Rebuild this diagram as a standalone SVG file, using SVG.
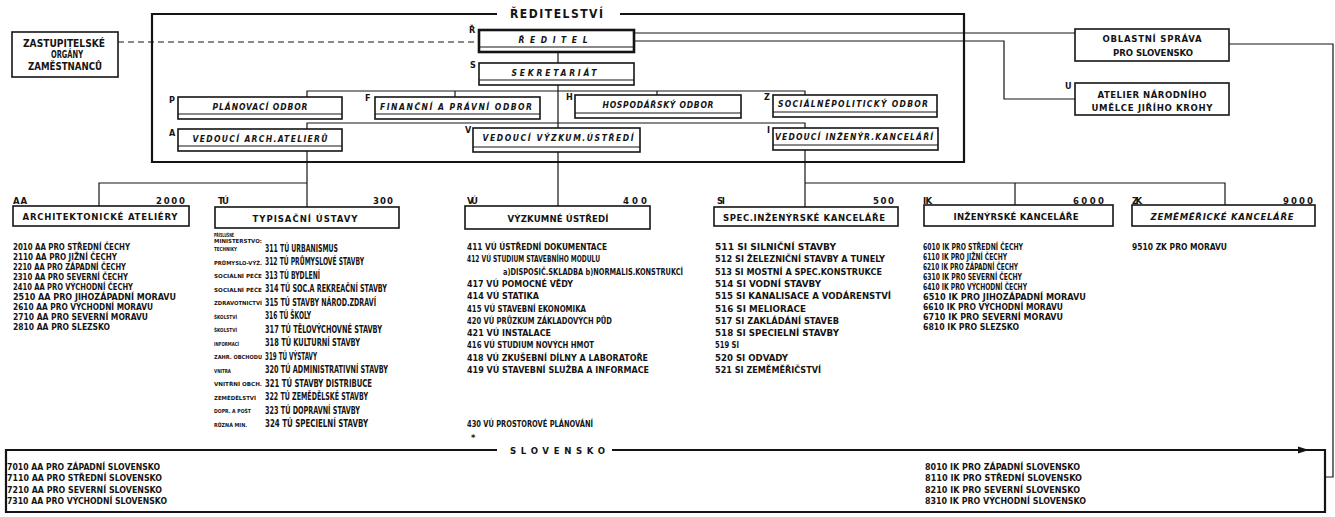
<svg xmlns="http://www.w3.org/2000/svg" width="1335" height="517" viewBox="0 0 1335 517">
<style>
text{font-family:"DejaVu Sans Condensed","DejaVu Sans","Liberation Sans",sans-serif;font-stretch:condensed;font-weight:bold;fill:#141414}
.box{fill:none;stroke:#141414;stroke-width:1.6}
.thick{fill:none;stroke:#141414;stroke-width:2.6}
.in{stroke:#141414;stroke-width:1}
.ln{fill:none;stroke:#141414;stroke-width:1.2}
.fr{fill:none;stroke:#141414;stroke-width:2.2}
.it{font-style:italic;font-size:8.5px}
.lb{font-size:9px}
.hd{font-size:9.5px}
.la{font-size:8.5px}
.lv{font-size:9.3px}
.lt{font-size:10px}
.sm{font-size:5.5px}
.c{text-anchor:middle}
.e{text-anchor:end}
</style>
<rect x="0" y="0" width="1335" height="517" fill="#ffffff"/>

<g id="connectors">
<path class="ln" d="M118,42 H479" stroke-dasharray="6,4"/>
<path class="ln" d="M558,52 V63 M558,85 V128 M558,152 V206"/>
<path class="ln" d="M307,97 V91 H805 V95 M455,91 V97 M657,91 V95"/>
<path class="ln" d="M307,129 V123 H805 V128"/>
<path class="ln" d="M634,33 H1075"/>
<path class="ln" d="M634,41 H1004 V99 H1075"/>
<path class="ln" d="M1229,44 H1333 V477 H1325"/>
<path class="ln" d="M307,151 V207 M307,183 H99 V206"/>
<path class="ln" d="M805,150 V207 M805,183 H1225 V205 M1015,183 V205"/>
<polygon points="1298,446.5 1309,450 1298,453.5" fill="#141414"/>
</g>

<g id="reditelstvi">
<path class="fr" d="M497,14 H152 V162 H964 V14 H620"/>
<text x="510" y="18" font-size="12" textLength="93" lengthAdjust="spacing">ŘEDITELSTVÍ</text>
</g>

<g id="zastupitelske">
<rect class="box" x="12" y="32" width="106" height="45"/>
<text class="c" x="64" y="46.5" font-size="10" textLength="82" lengthAdjust="spacingAndGlyphs">ZASTUPITELSKÉ</text>
<text class="c" x="67" y="58" font-size="10" textLength="32" lengthAdjust="spacingAndGlyphs">ORGÁNY</text>
<text class="c" x="65" y="70" font-size="10" textLength="74" lengthAdjust="spacingAndGlyphs">ZAMĚSTNANCŮ</text>
</g>

<g id="reditel">
<rect class="thick" x="479" y="30" width="155" height="22"/>
<line class="in" x1="479" y1="47" x2="634" y2="47"/>
<text class="it c" x="553" y="43" textLength="69" lengthAdjust="spacing">ŘEDITEL</text>
<text class="lb" x="469" y="33">Ř</text>
</g>

<g id="sekretariat">
<rect class="box" x="479" y="63" width="155" height="22"/>
<line class="in" x1="479" y1="80" x2="634" y2="80"/>
<text class="it c" x="554" y="76" textLength="85" lengthAdjust="spacing">SEKRETARIÁT</text>
<text class="lb" x="470" y="68">S</text>
</g>

<g id="planovaci">
<rect class="box" x="178" y="97" width="164" height="22"/>
<line class="in" x1="178" y1="114" x2="342" y2="114"/>
<text class="it c" x="260" y="110" textLength="95" lengthAdjust="spacing">PLÁNOVACÍ ODBOR</text>
<text class="lb" x="169" y="103">P</text>
</g>

<g id="financni">
<rect class="box" x="375" y="97" width="165" height="22"/>
<line class="in" x1="375" y1="114" x2="540" y2="114"/>
<text class="it c" x="456" y="110" textLength="152" lengthAdjust="spacing">FINANČNÍ A PRÁVNÍ ODBOR</text>
<text class="lb" x="365" y="101">F</text>
</g>

<g id="hospodarsky">
<rect class="box" x="575" y="95" width="166" height="23"/>
<line class="in" x1="575" y1="113" x2="741" y2="113"/>
<text class="it c" x="658" y="108" textLength="111" lengthAdjust="spacing">HOSPODÁŘSKÝ ODBOR</text>
<text class="lb" x="566" y="100">H</text>
</g>

<g id="socialne">
<rect class="box" x="773" y="95" width="164" height="22"/>
<line class="in" x1="773" y1="112" x2="937" y2="112"/>
<text class="it c" x="853" y="107" textLength="150" lengthAdjust="spacing">SOCIÁLNĚPOLITICKÝ ODBOR</text>
<text class="lb" x="764" y="100">Z</text>
</g>

<g id="vedouci-arch">
<rect class="box" x="178" y="129" width="164" height="22"/>
<line class="in" x1="178" y1="146" x2="342" y2="146"/>
<text class="it c" x="260" y="142" textLength="135" lengthAdjust="spacing">VEDOUCÍ ARCH.ATELIERŮ</text>
<text class="lb" x="169" y="136">A</text>
</g>

<g id="vedouci-vyzkum">
<rect class="box" x="473" y="128" width="167" height="24"/>
<line class="in" x1="473" y1="147" x2="640" y2="147"/>
<text class="it c" x="558" y="141" textLength="151" lengthAdjust="spacing">VEDOUCÍ VÝZKUM.ÚSTŘEDÍ</text>
<text class="lb" x="465" y="133">V</text>
</g>

<g id="vedouci-inzenyr">
<rect class="box" x="773" y="128" width="165" height="22"/>
<line class="in" x1="773" y1="145" x2="938" y2="145"/>
<text class="it c" x="854" y="140" textLength="158" lengthAdjust="spacing">VEDOUCÍ INŽENÝR.KANCELÁŘÍ</text>
<text class="lb" x="767" y="133">I</text>
</g>

<g id="oblastni">
<rect class="box" x="1075" y="29" width="154" height="32" stroke-width="2"/>
<text class="c" x="1152" y="42" font-size="9.5" textLength="99" lengthAdjust="spacing">OBLASTNÍ SPRÁVA</text>
<text class="c" x="1153" y="56" font-size="9.5" textLength="80" lengthAdjust="spacing">PRO SLOVENSKO</text>
</g>

<g id="atelier">
<rect class="box" x="1075" y="83" width="154" height="32" stroke-width="2"/>
<text class="c" x="1152" y="98" font-size="9.5" textLength="109" lengthAdjust="spacing">ATELIER NÁRODNÍHO</text>
<text class="c" x="1152" y="111" font-size="9.5" textLength="121" lengthAdjust="spacing">UMĚLCE JIŘÍHO KROHY</text>
<text class="lb" x="1065" y="89" font-size="8">U</text>
</g>

<g id="aa">
<text class="hd" x="13" y="204" textLength="14" lengthAdjust="spacing">AA</text>
<text class="hd e" x="185" y="204" textLength="29" lengthAdjust="spacing">2000</text>
<rect class="box" x="13" y="206" width="176" height="20"/>
<text class="hd c" x="100" y="220" textLength="155" lengthAdjust="spacing">ARCHITEKTONICKÉ ATELIÉRY</text>
<g class="la">
<text x="13" y="250" textLength="117" lengthAdjust="spacingAndGlyphs">2010 AA  PRO STŘEDNÍ ČECHY</text>
<text x="13" y="260" textLength="104" lengthAdjust="spacingAndGlyphs">2110 AA  PRO JIŽNÍ ČECHY</text>
<text x="13" y="270" textLength="113" lengthAdjust="spacingAndGlyphs">2210 AA  PRO ZÁPADNÍ ČECHY</text>
<text x="13" y="280" textLength="115" lengthAdjust="spacingAndGlyphs">2310 AA  PRO SEVERNÍ ČECHY</text>
<text x="13" y="290" textLength="120" lengthAdjust="spacingAndGlyphs">2410 AA  PRO VÝCHODNÍ ČECHY</text>
<text x="13" y="300" textLength="163" lengthAdjust="spacingAndGlyphs">2510 AA  PRO JIHOZÁPADNÍ MORAVU</text>
<text x="13" y="310" textLength="140" lengthAdjust="spacingAndGlyphs">2610 AA  PRO VÝCHODNÍ MORAVU</text>
<text x="13" y="320" textLength="135" lengthAdjust="spacingAndGlyphs">2710 AA  PRO SEVERNÍ MORAVU</text>
<text x="13" y="330" textLength="97" lengthAdjust="spacingAndGlyphs">2810 AA  PRO SLEZSKO</text>
</g>
</g>

<g id="tu">
<text class="hd" x="218" y="204" textLength="11" lengthAdjust="spacing">TÚ</text>
<text class="hd e" x="393" y="204" textLength="20" lengthAdjust="spacing">300</text>
<rect class="box" x="215" y="207" width="184" height="21"/>
<text class="hd c" x="305" y="221.5" textLength="105" lengthAdjust="spacing">TYPISAČNÍ ÚSTAVY</text>
<text class="sm" x="214" y="236.5" textLength="20" lengthAdjust="spacingAndGlyphs">PŘÍSLUŠNÉ</text>
<text class="sm" x="214" y="242.5" textLength="48" lengthAdjust="spacingAndGlyphs">MINISTERSTVO:</text>
<g class="sm">
<text x="214" y="251" textLength="23" lengthAdjust="spacingAndGlyphs">TECHNIKY</text>
<text x="214" y="264.5" textLength="48" lengthAdjust="spacingAndGlyphs">PRŮMYSLO-VÝŽ.</text>
<text x="214" y="278" textLength="48" lengthAdjust="spacingAndGlyphs">SOCIÁLNÍ PÉČE</text>
<text x="214" y="291.5" textLength="48" lengthAdjust="spacingAndGlyphs">SOCIALNÍ PÉČE</text>
<text x="214" y="305" textLength="48" lengthAdjust="spacingAndGlyphs">ZDRAVOTNICTVÍ</text>
<text x="214" y="318.5" textLength="23" lengthAdjust="spacingAndGlyphs">ŠKOLSTVÍ</text>
<text x="214" y="332" textLength="23" lengthAdjust="spacingAndGlyphs">ŠKOLSTVÍ</text>
<text x="214" y="345.5" textLength="25" lengthAdjust="spacingAndGlyphs">INFORMACÍ</text>
<text x="214" y="359" textLength="48" lengthAdjust="spacingAndGlyphs">ZAHR. OBCHODU</text>
<text x="214" y="372.5" textLength="17" lengthAdjust="spacingAndGlyphs">VNITRA</text>
<text x="214" y="386" textLength="48" lengthAdjust="spacingAndGlyphs">VNITŘNÍ OBCH.</text>
<text x="214" y="399.5" textLength="42" lengthAdjust="spacingAndGlyphs">ZEMĚDĚLSTVÍ</text>
<text x="214" y="413" textLength="37" lengthAdjust="spacingAndGlyphs">DOPR. A POŠT</text>
<text x="214" y="426.5" textLength="33" lengthAdjust="spacingAndGlyphs">RŮZNÁ MIN.</text>
</g>
<g class="lt">
<text x="265" y="251.5" textLength="73" lengthAdjust="spacingAndGlyphs">311 TÚ URBANISMUS</text>
<text x="265" y="265" textLength="99" lengthAdjust="spacingAndGlyphs">312 TÚ PRŮMYSLOVÉ STAVBY</text>
<text x="265" y="278.5" textLength="55" lengthAdjust="spacingAndGlyphs">313 TÚ BYDLENÍ</text>
<text x="265" y="292" textLength="122" lengthAdjust="spacingAndGlyphs">314 TÚ SOC.A REKREAČNÍ STAVBY</text>
<text x="265" y="305.5" textLength="111" lengthAdjust="spacingAndGlyphs">315 TÚ STAVBY NÁROD.ZDRAVÍ</text>
<text x="265" y="319" textLength="46" lengthAdjust="spacingAndGlyphs">316 TÚ ŠKOLY</text>
<text x="265" y="332.5" textLength="117" lengthAdjust="spacingAndGlyphs">317 TÚ TĚLOVÝCHOVNÉ  STAVBY</text>
<text x="265" y="346" textLength="95" lengthAdjust="spacingAndGlyphs">318 TÚ KULTURNÍ STAVBY</text>
<text x="265" y="359.5" textLength="52" lengthAdjust="spacingAndGlyphs">319 TÚ VÝSTAVY</text>
<text x="265" y="373" textLength="123" lengthAdjust="spacingAndGlyphs">320 TÚ ADMINISTRATIVNÍ STAVBY</text>
<text x="265" y="386.5" textLength="107" lengthAdjust="spacingAndGlyphs">321 TÚ STAVBY DISTRIBUCE</text>
<text x="265" y="400" textLength="103" lengthAdjust="spacingAndGlyphs">322 TÚ ZEMĚDĚLSKÉ STAVBY</text>
<text x="265" y="413.5" textLength="95" lengthAdjust="spacingAndGlyphs">323 TÚ DOPRAVNÍ STAVBY</text>
<text x="265" y="427" textLength="103" lengthAdjust="spacingAndGlyphs">324 TÚ SPECIELNÍ STAVBY</text>
</g>
</g>

<g id="vu">
<text class="hd" x="467" y="204" textLength="11" lengthAdjust="spacing">VÚ</text>
<text class="hd e" x="647" y="204" textLength="24" lengthAdjust="spacing">400</text>
<rect class="box" x="465" y="206" width="185" height="23"/>
<text class="hd c" x="558" y="222" textLength="101" lengthAdjust="spacing">VÝZKUMNÉ ÚSTŘEDÍ</text>
<g class="lv">
<text x="467" y="250" textLength="140" lengthAdjust="spacingAndGlyphs">411 VÚ ÚSTŘEDNÍ DOKUMENTACE</text>
<text x="467" y="262.3" textLength="133" lengthAdjust="spacingAndGlyphs">412 VÚ STUDIUM STAVEBNÍHO MODULU</text>
<text x="503" y="274.6" textLength="180" lengthAdjust="spacingAndGlyphs">a)DISPOSIČ.SKLADBA b)NORMALIS.KONSTRUKCÍ</text>
<text x="467" y="286.9" textLength="106" lengthAdjust="spacingAndGlyphs">417 VÚ POMOCNÉ VĚDY</text>
<text x="467" y="299.2" textLength="72" lengthAdjust="spacingAndGlyphs">414 VÚ STATIKA</text>
<text x="467" y="311.5" textLength="119" lengthAdjust="spacingAndGlyphs">415 VÚ STAVEBNÍ EKONOMIKA</text>
<text x="467" y="323.8" textLength="145" lengthAdjust="spacingAndGlyphs">420 VÚ PRŮZKUM ZÁKLADOVÝCH PŮD</text>
<text x="467" y="336.1" textLength="84" lengthAdjust="spacingAndGlyphs">421 VÚ INSTALACE</text>
<text x="467" y="348.4" textLength="127" lengthAdjust="spacingAndGlyphs">416 VÚ STUDIUM NOVÝCH HMOT</text>
<text x="467" y="360.7" textLength="181" lengthAdjust="spacingAndGlyphs">418 VÚ ZKUŠEBNÍ DÍLNY A LABORATOŘE</text>
<text x="467" y="373" textLength="182" lengthAdjust="spacingAndGlyphs">419 VÚ STAVEBNÍ SLUŽBA A INFORMACE</text>
<text x="467" y="427" textLength="126" lengthAdjust="spacingAndGlyphs">430 VÚ PROSTOROVÉ PLÁNOVÁNÍ</text>
<text x="471" y="441">*</text>
</g>
</g>

<g id="si">
<text class="hd" x="717" y="204" textLength="8" lengthAdjust="spacing">SI</text>
<text class="hd e" x="894" y="204" textLength="21" lengthAdjust="spacing">500</text>
<rect class="box" x="714" y="207" width="184" height="19"/>
<text class="hd c" x="804" y="220.5" textLength="162" lengthAdjust="spacing">SPEC.INŽENÝRSKÉ KANCELÁŘE</text>
<g class="lv">
<text x="715" y="250" textLength="121" lengthAdjust="spacingAndGlyphs">511 SI SILNIČNÍ STAVBY</text>
<text x="715" y="262.3" textLength="170" lengthAdjust="spacingAndGlyphs">512 SI ŽELEZNIČNÍ STAVBY A TUNELY</text>
<text x="715" y="274.6" textLength="167" lengthAdjust="spacingAndGlyphs">513 SI MOSTNÍ A SPEC.KONSTRUKCE</text>
<text x="715" y="286.9" textLength="106" lengthAdjust="spacingAndGlyphs">514 SI VODNÍ STAVBY</text>
<text x="715" y="299.2" textLength="176" lengthAdjust="spacingAndGlyphs">515 SI KANALISACE A VODÁRENSTVÍ</text>
<text x="715" y="311.5" textLength="91" lengthAdjust="spacingAndGlyphs">516 SI MELIORACE</text>
<text x="715" y="323.8" textLength="124" lengthAdjust="spacingAndGlyphs">517 SI ZAKLÁDÁNÍ STAVEB</text>
<text x="715" y="336.1" textLength="124" lengthAdjust="spacingAndGlyphs">518 SI SPECIELNÍ STAVBY</text>
<text x="715" y="348.4" textLength="24" lengthAdjust="spacingAndGlyphs">519 SI</text>
<text x="715" y="360.7" textLength="73" lengthAdjust="spacingAndGlyphs">520 SI ODVADY</text>
<text x="715" y="373" textLength="106" lengthAdjust="spacingAndGlyphs">521 SI ZEMĚMĚŘIČSTVÍ</text>
</g>
</g>

<g id="ik">
<text class="hd" x="923" y="204" textLength="9" lengthAdjust="spacing">IK</text>
<text class="hd e" x="1104" y="204" textLength="31" lengthAdjust="spacing">6000</text>
<rect class="box" x="924" y="205" width="189" height="21"/>
<text class="hd c" x="1016" y="219.5" textLength="125" lengthAdjust="spacing">INŽENÝRSKÉ KANCELÁŘE</text>
<g class="la">
<text x="923" y="250" textLength="100" lengthAdjust="spacingAndGlyphs">6010 IK PRO STŘEDNÍ ČECHY</text>
<text x="923" y="260" textLength="84" lengthAdjust="spacingAndGlyphs">6110 IK PRO JIŽNÍ ČECHY</text>
<text x="923" y="270" textLength="95" lengthAdjust="spacingAndGlyphs">6210 IK PRO ZÁPADNÍ ČECHY</text>
<text x="923" y="280" textLength="99" lengthAdjust="spacingAndGlyphs">6310 IK PRO SEVERNÍ ČECHY</text>
<text x="923" y="290" textLength="104" lengthAdjust="spacingAndGlyphs">6410 IK PRO VÝCHODNÍ ČECHY</text>
<text x="923" y="300" textLength="163" lengthAdjust="spacingAndGlyphs">6510 IK PRO JIHOZÁPADNÍ MORAVU</text>
<text x="923" y="310" textLength="140" lengthAdjust="spacingAndGlyphs">6610 IK PRO VÝCHODNÍ MORAVU</text>
<text x="923" y="320" textLength="140" lengthAdjust="spacingAndGlyphs">6710 IK PRO SEVERNÍ MORAVU</text>
<text x="923" y="330" textLength="96" lengthAdjust="spacingAndGlyphs">6810 IK PRO SLEZSKO</text>
</g>
</g>

<g id="zk">
<text class="hd" x="1132" y="204" textLength="10" lengthAdjust="spacing">ZK</text>
<text class="hd e" x="1313" y="204" textLength="30" lengthAdjust="spacing">9000</text>
<rect class="box" x="1132" y="205" width="183" height="21"/>
<text class="hd c" x="1222" y="219.5" font-style="italic" textLength="143" lengthAdjust="spacing">ZEMĚMĚŘICKÉ KANCELÁŘE</text>
<text class="la" x="1132" y="250" textLength="95" lengthAdjust="spacingAndGlyphs">9510 ZK PRO MORAVU</text>
</g>

<g id="slovensko">
<path class="fr" d="M497,450 H6 V512 H1325 V450 H612" stroke-width="1.8"/>
<text class="hd" x="510" y="454" textLength="95" lengthAdjust="spacing">SLOVENSKO</text>
<g class="la">
<text x="7" y="469.5" textLength="153" lengthAdjust="spacingAndGlyphs">7010 AA PRO ZÁPADNÍ SLOVENSKO</text>
<text x="7" y="481" textLength="155" lengthAdjust="spacingAndGlyphs">7110 AA PRO STŘEDNÍ SLOVENSKO</text>
<text x="7" y="492.5" textLength="155" lengthAdjust="spacingAndGlyphs">7210 AA PRO SEVERNÍ SLOVENSKO</text>
<text x="7" y="504" textLength="160" lengthAdjust="spacingAndGlyphs">7310 AA PRO VÝCHODNÍ SLOVENSKO</text>
<text x="925" y="469.5" textLength="155" lengthAdjust="spacingAndGlyphs">8010 IK PRO ZÁPADNÍ SLOVENSKO</text>
<text x="925" y="481" textLength="157" lengthAdjust="spacingAndGlyphs">8110 IK PRO STŘEDNÍ SLOVENSKO</text>
<text x="925" y="492.5" textLength="155" lengthAdjust="spacingAndGlyphs">8210 IK PRO SEVERNÍ SLOVENSKO</text>
<text x="925" y="504" textLength="161" lengthAdjust="spacingAndGlyphs">8310 IK PRO VÝCHODNÍ SLOVENSKO</text>
</g>
</g>
</svg>
